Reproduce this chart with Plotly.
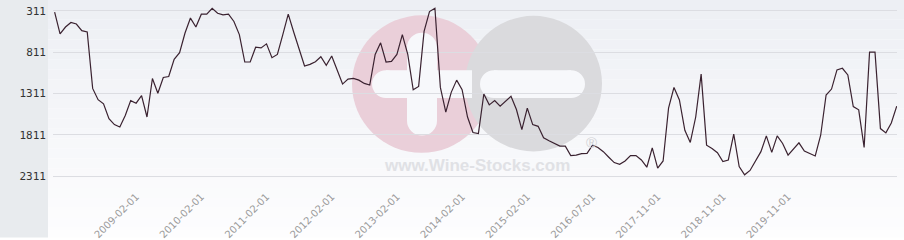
import plotly.graph_objects as go

# ---- data ----
ranks = [
    327, 590, 506, 451, 470, 550, 566, 1248, 1384, 1435, 1615, 1686, 1714, 1575, 1396, 1427,
    1336, 1594, 1128, 1307, 1116, 1104, 897, 817, 578, 398,
    506, 351, 351, 279, 339, 359, 351, 439, 598, 929, 929, 750, 758, 710, 877, 837,
    598, 351, 566, 786, 977, 957, 925, 865, 969, 857,
    1037, 1196, 1136, 1128, 1148, 1188, 1208, 837, 697, 929, 921, 837, 598, 837, 1264, 1224,
    559, 319, 279, 1236, 1535, 1296, 1148, 1264, 1594, 1782,
    1793, 1316, 1447, 1396, 1463, 1408, 1343, 1503, 1746, 1487, 1686, 1707, 1846, 1882, 1914, 1946,
    1946, 2061, 2054, 2037, 2033, 1934, 1962, 2013, 2080, 2145,
    2165, 2125, 2061, 2061, 2113, 2201, 1966, 2213, 2125, 1487, 1236, 1387, 1754, 1902, 1594, 1076,
    1934, 1974, 2025, 2133, 2113, 1802, 2193, 2293, 2240, 2130,
    2013, 1822, 2021, 1822, 1914, 2054, 1985, 1906, 2006, 2033, 2065, 1814, 1328, 1256, 1025, 1005,
    1085, 1468, 1507, 1962, 810, 810, 1734, 1786, 1666, 1463,
]
tick_labels = ["2009-02-01", "2010-02-01", "2011-02-01", "2012-02-01", "2013-02-01",
               "2014-02-01", "2015-02-01", "2016-07-01", "2017-11-01", "2018-11-01",
               "2019-11-01"]
y_ticks = [311, 811, 1311, 1811, 2311]

x_idx = list(range(len(ranks)))
tick_pos = [15 + 12 * i for i in range(len(tick_labels))]

W, H = 904, 240
ML, MR, MT, MB = 53, 7, 0, 50
PW, PH = W - ML - MR, H - MT - MB


def px(xp):
    return (xp - ML) / PW


def py(yp):
    return (H - MB - yp) / PH


shapes = []
# background gradient (plot side)
top = (237, 239, 244)
bot = (253, 253, 254)
n = 24
for i in range(n):
    t = i / (n - 1)
    c = tuple(round(top[k] + (bot[k] - top[k]) * t) for k in range(3))
    y0 = i * H / n
    y1 = (i + 1) * H / n
    shapes.append(dict(type="rect", xref="paper", yref="paper", layer="below",
                       x0=px(48), x1=px(W), y0=py(y1), y1=py(y0),
                       fillcolor="rgb(%d,%d,%d)" % c, line=dict(width=0)))
# left gray panel
shapes.append(dict(type="rect", xref="paper", yref="paper", layer="below",
                   x0=px(0), x1=px(48), y0=py(H), y1=py(0),
                   fillcolor="#e8ebee", line=dict(width=0)))


def circle(cx, cy, r, color):
    return dict(type="circle", xref="paper", yref="paper", layer="below",
                x0=px(cx - r), x1=px(cx + r), y0=py(cy + r), y1=py(cy - r),
                fillcolor=color, line=dict(width=0))


def rect(x0, y0, x1, y1, color):
    return dict(type="rect", xref="paper", yref="paper", layer="below",
                x0=px(x0), x1=px(x1), y0=py(y1), y1=py(y0),
                fillcolor=color, line=dict(width=0))


wm_pink = "#eacfd9"
wm_gray = "#dadadd"
wm_white = "#f7f8fb"
shapes.append(circle(421.5, 85, 69.5, wm_pink))
shapes.append(circle(533.5, 84.5, 68.5, wm_gray))
# white cross inside pink circle
shapes.append(rect(407, 48, 437, 122, wm_white))
shapes.append(circle(422, 48, 15, wm_white))
shapes.append(circle(422, 122, 15, wm_white))
shapes.append(rect(386, 71, 472, 99, wm_white))
shapes.append(circle(386, 85, 14, wm_white))
# white bar inside gray circle
shapes.append(rect(494, 71, 571, 99, wm_white))
shapes.append(circle(494, 85, 14, wm_white))
shapes.append(circle(571, 85, 14, wm_white))

annotations = [
    dict(text="www.Wine-Stocks.com", xref="paper", yref="paper", x=px(477), y=py(167),
         showarrow=False, font=dict(family="Liberation Sans", size=17, color="#e0e1e5"),
         xanchor="center", yanchor="middle"),
    dict(text="®", xref="paper", yref="paper", x=px(591), y=py(144),
         showarrow=False, font=dict(family="Liberation Sans", size=15, color="#d2d2d6"),
         xanchor="center", yanchor="middle"),
]
annotations[0]["font"]["weight"] = "bold"

fig = go.Figure()
fig.add_trace(go.Scatter(x=x_idx, y=ranks, mode="lines",
                         line=dict(color="#3a2230", width=1.2),
                         hoverinfo="skip", showlegend=False))

# y range: 311 at y=11px, 500 units per 41.8px
ppu = 41.8 / 500
y_top = 311 - 11 / ppu
y_bot = 311 + (PH - 11) / ppu

fig.update_layout(
    width=W, height=H,
    margin=dict(l=ML, r=MR, t=MT, b=MB),
    paper_bgcolor="white",
    plot_bgcolor="rgba(0,0,0,0)",
    shapes=shapes,
    annotations=annotations,
    showlegend=False,
    xaxis=dict(range=[-0.3, len(ranks) - 1 + 0.05], tickmode="array",
               tickvals=tick_pos, ticktext=tick_labels, tickangle=-45,
               showgrid=False, zeroline=False, showline=False, ticks="",
               tickfont=dict(family="DejaVu Sans", size=10, color="#9a9a9a")),
    yaxis=dict(range=[y_bot, y_top], tickmode="array", tickvals=y_ticks,
               ticktext=[str(v) for v in y_ticks],
               showgrid=True, gridcolor="#dcdde2", gridwidth=1,
               zeroline=False, showline=False, ticks="",
               ticklabelstandoff=6,
               tickfont=dict(family="DejaVu Sans Mono", size=11, color="#333333")),
)

fig.write_html("out.html")
